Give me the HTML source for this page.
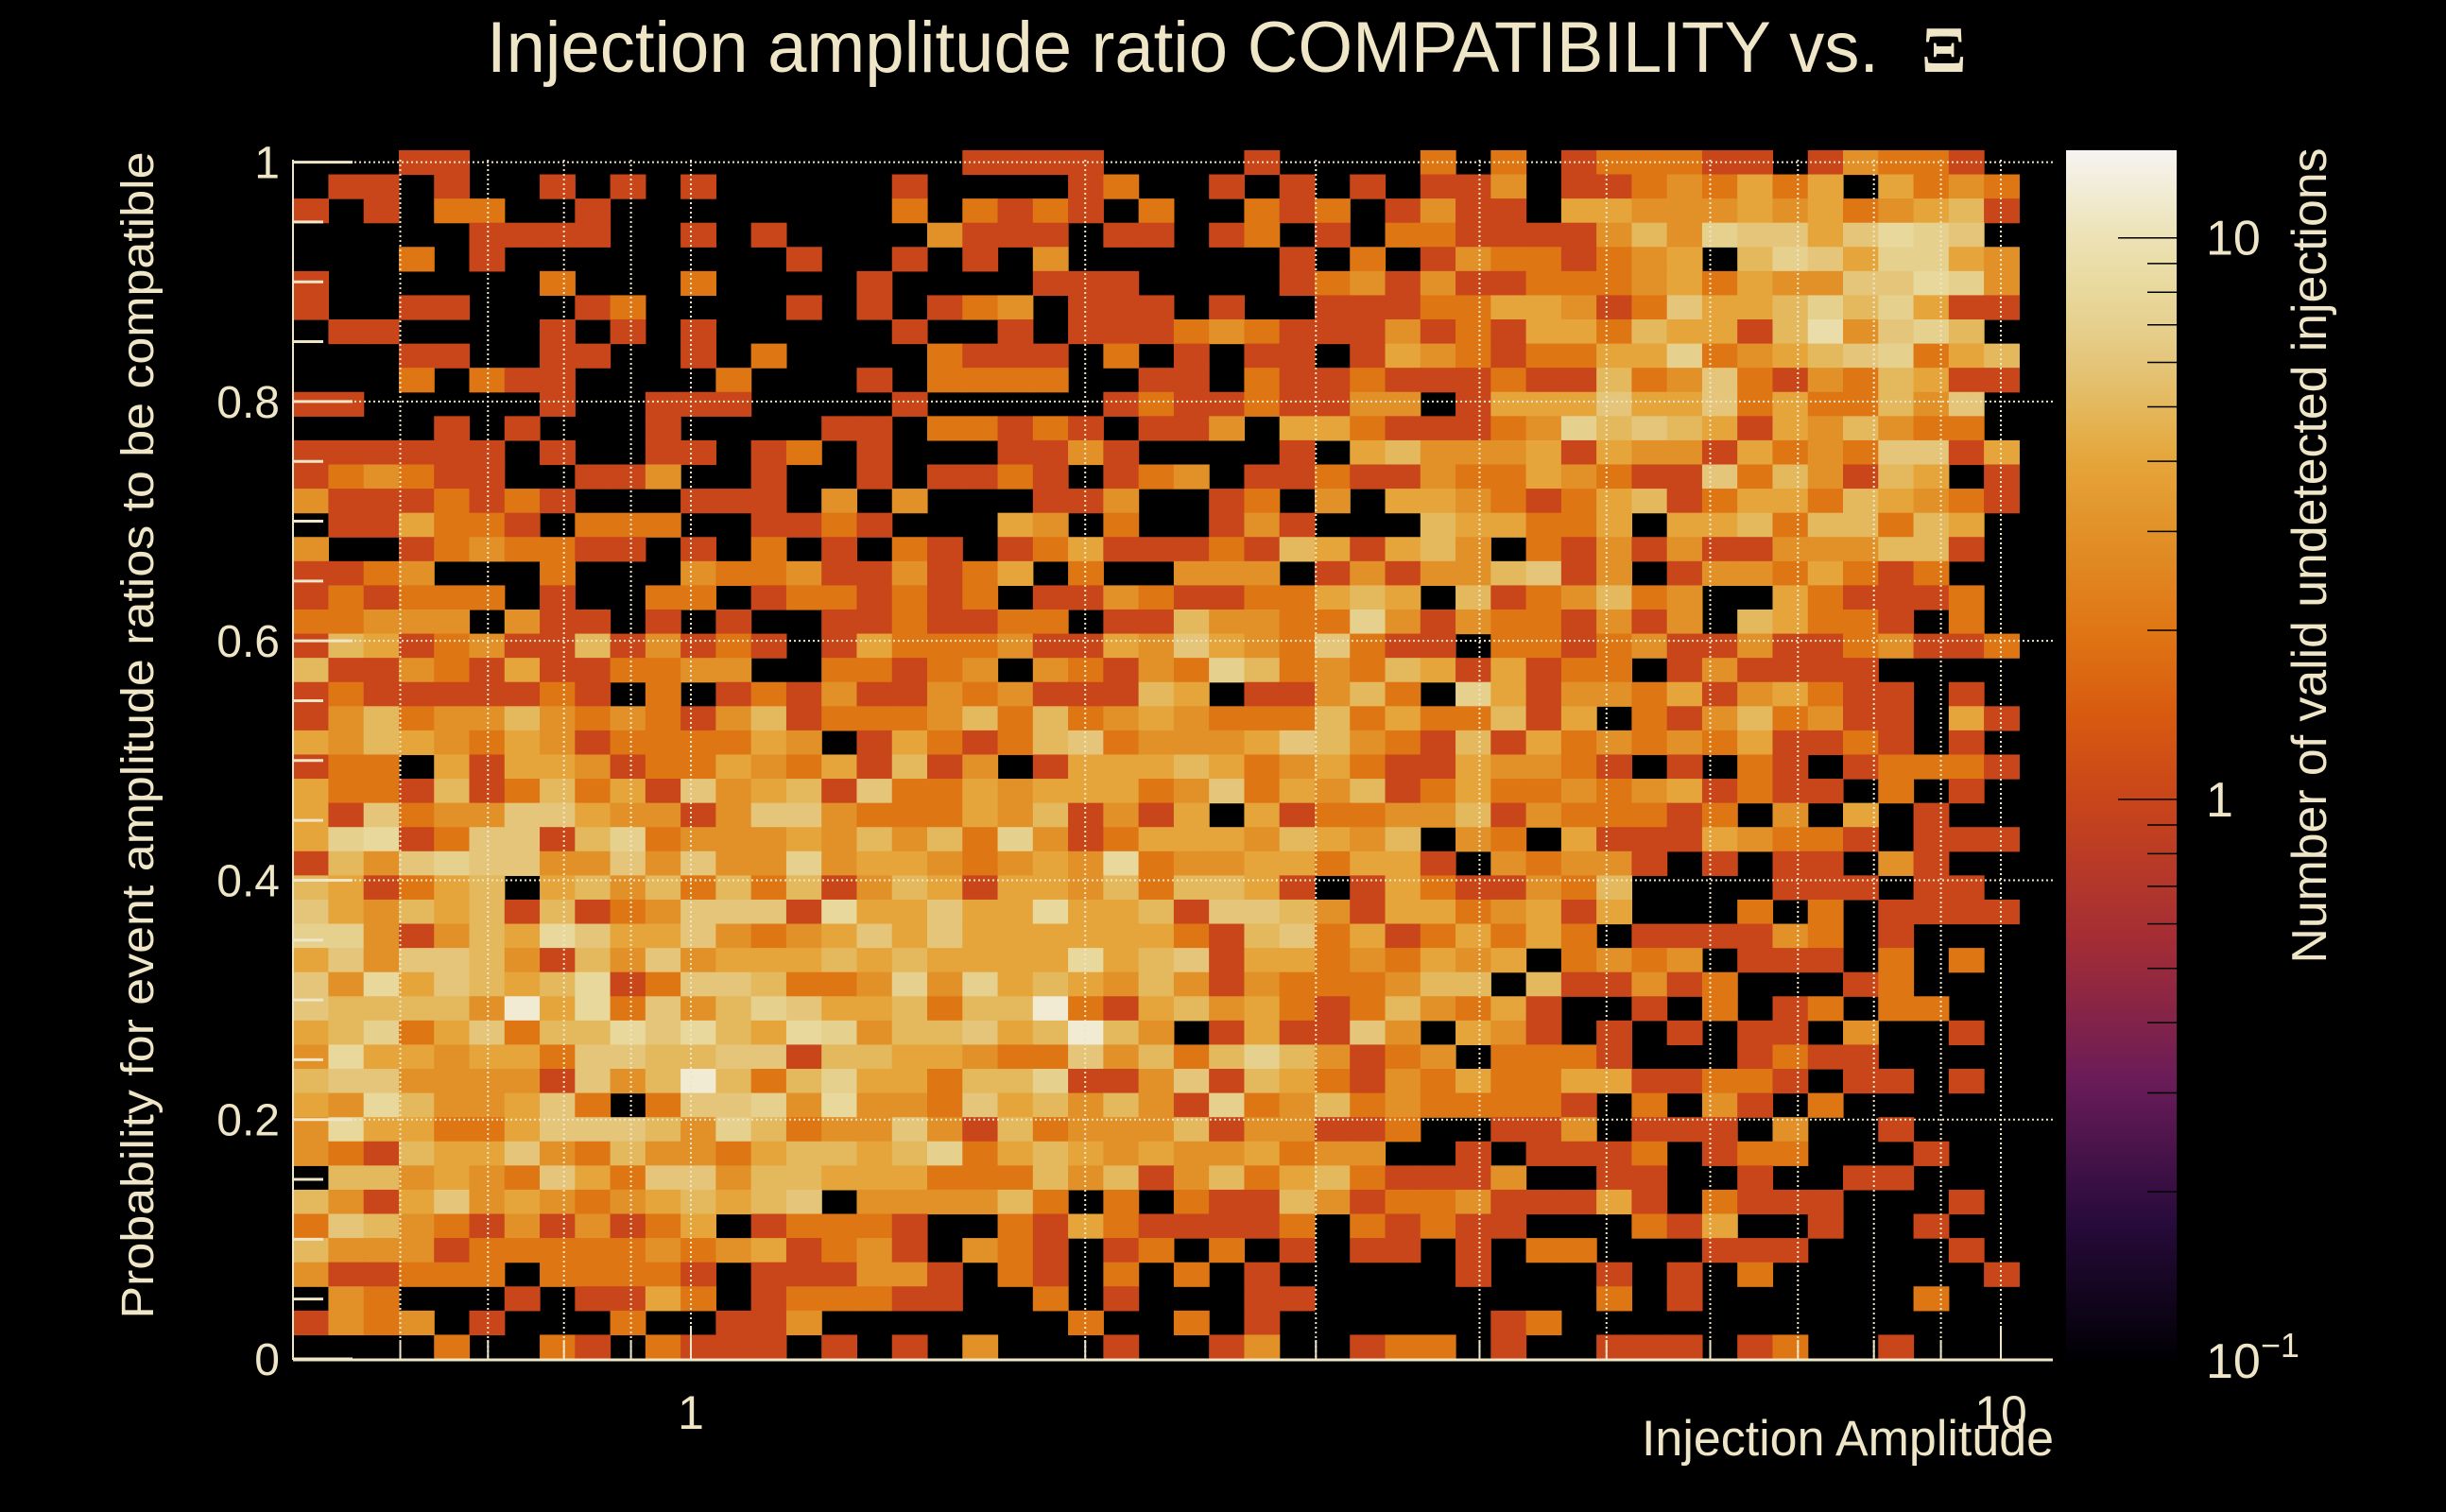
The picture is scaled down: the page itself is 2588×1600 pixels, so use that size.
<!DOCTYPE html>
<html><head><meta charset="utf-8">
<style>
html,body{margin:0;padding:0;background:#000;}
svg{display:block;}
text{font-family:"Liberation Sans",sans-serif;fill:#efe5c7;}
</style></head>
<body>
<svg id="chart" xmlns="http://www.w3.org/2000/svg" width="2588" height="1600" viewBox="0 0 2588 1600">
<defs>
<linearGradient id="cbgrad" x1="0" y1="1" x2="0" y2="0"></linearGradient>
</defs>
<rect x="0" y="0" width="2588" height="1600" fill="#000"/>
<g id="cells"></g>
<g id="grid"></g>
<g id="axes"></g>
<g id="colorbar"></g>
<text x="515" y="76" font-size="76" textLength="1473" lengthAdjust="spacingAndGlyphs">Injection amplitude ratio COMPATIBILITY vs.</text>
<text x="2033" y="76" font-size="70" font-weight="bold" style="font-family:'Liberation Serif',serif">Ξ</text>
<text x="2173" y="1540" font-size="53" text-anchor="end" textLength="436" lengthAdjust="spacingAndGlyphs">Injection Amplitude</text>
<text transform="translate(162,778) rotate(-90)" font-size="48" text-anchor="middle" textLength="1235" lengthAdjust="spacingAndGlyphs">Probability for event amplitude ratios to be compatible</text>
<text transform="translate(2461,588) rotate(-90)" font-size="52" text-anchor="middle" textLength="863" lengthAdjust="spacingAndGlyphs">Number of valid undetected injections</text>
</svg>
<script>
// ---- data (rows listed top (y~1.0) to bottom (y~0); one char per x bin, hex count) ----
const countRows = [
"0001100000000000000111100001000020201222110132210",
"0110100101010000010000120010101011301123242404232",
"1010220010000000020212102002120131104433343423451",
"0000011110010100003111011012010221111353766468760",
"0002010000000010010103000000102013221234057647743",
"1000000200020000100001110000123131122234243366873",
"1001100012000010101230111010011122443126445757411",
"0110000101010000010010111232111312144254415936750",
"0001100110010200002111020101101432122447234567245",
"0002021100002000102222001102112111211523621325411",
"1100000100111000010000012112113301444644624225360",
"0000101000100001102212101130442111237565414353220",
"1111110100110120100011310000104533341433142326614",
"1232110011300100101121012301121132243211625315401",
"3111212100011103030001130012030443212451244254321",
"0114221022200112100043020013100054422404452552540",
"3001232211010201021012411121541453021313113335510",
"1123000200032231131240200333013133561301332421200",
"1212220100220122121201132112245405123523004211120",
"2233303110101001121122011533227313221313054221020",
"1541231151312101422231143643262110221231131123112",
"5113214112233002212303213275232541412201311110000",
"1211111210201213113231115401135207413324134211010",
"1352335323213512223525234322252422514021352311041",
"4354324312222430142125623334653215142323241121010",
"1220414431224324151301444542342114332101021012221",
"4221512524163451622434442362435124223234121102010",
"4162336643313663222435131404122335132221203040100",
"4781266157233343535273124443543503204111432210111",
"1536766336363373443234382334424410323310101103100",
"5412450453525251354144352554101421132500001110110",
"6435451512366618446448445166531442341400020201111",
"7731354864463234646444444215624124242011113201000",
"4636653153634445454444845614423243402323011102020",
"6384654581266522373745435313222355051131200012000",
"655553c48263576445255c214534212532410010201202200",
"4572462558685487355645c53014116304310101011030010",
"3844344266556615544322635257531230222100012110000",
"56633331635c5257442557113615421324224411221011010",
"4385334620266738332645353172352322221020310200000",
"3844224666537523363152333513311200113011103001000",
"3215446325332455457245434334233001011120122000100",
"0553432642663554442225351352452111300110010011000",
"5314634323454560333352020211531223111410211100010",
"2653213131240122210021421111202121100021400100100",
"5333122222323412310321012020101101022000111000010",
"3112220222210111331021020201000001000101020000001",
"0320001011420122211002010001100000000201000000200",
"1323010002001130000000200201000000120000000000000",
"0000200210211101010300010013001220100111012001000"
];
const yTickValues = [0, 0.2, 0.4, 0.6, 0.8, 1];
const yTickLabels = ["0", "0.2", "0.4", "0.6", "0.8", "1"];
const xTickValues = [1, 10];
const xTickLabels = ["1", "10"];
const xGridValues = [0.6, 0.7, 0.8, 0.9, 1, 2, 3, 4, 5, 6, 7, 8, 9, 10];
const cbTickValues = [0.1, 1, 10];

// ---- geometry / scales ----
const PX0 = 310, PX1 = 2172, PY0 = 159, PY1 = 1438;
const X_ONE = 731, DECADE = 1386;
const xScale = v => X_ONE + Math.log10(v) * DECADE;
const yScale = v => PY1 - v * 1266.4;
const nCols = 49, nRows = 50;
const xMinVal = 0.497, logBinW = 0.02689;
const yBinW = 0.0202;
const CB_X0 = 2186, CB_X1 = 2303, CB_TOP = 159, CB_BOT = 1440;
const cbLogMin = -1, cbLogMax = 1.156;
const cbScale = v => CB_BOT - (Math.log10(v) - cbLogMin) / (cbLogMax - cbLogMin) * (CB_BOT - CB_TOP);

const stops = [[-1,'#000004'],[-0.75,'#280b3c'],[-0.5,'#6a1c58'],[-0.25,'#a42d35'],[0,'#c9451a'],[0.15,'#d85a10'],[0.301,'#df7614'],[0.477,'#e19128'],[0.602,'#e5a53a'],[0.699,'#e4b85c'],[0.778,'#e4c57a'],[0.845,'#e6d08e'],[0.903,'#e8d89c'],[1,'#ece2b4'],[1.156,'#f6f4f2']];
function hex2rgb(h){return [1,3,5].map(i=>parseInt(h.substr(i,2),16));}
function colorFor(v){
  const t = Math.log10(v);
  for (let i=0;i<stops.length-1;i++){
    const [a,ca]=stops[i],[b,cb]=stops[i+1];
    if (t<=b || i===stops.length-2){
      const f=Math.max(0,Math.min(1,(t-a)/(b-a)));
      const A=hex2rgb(ca),B=hex2rgb(cb);
      return 'rgb('+A.map((x,k)=>Math.round(x+(B[k]-x)*f)).join(',')+')';
    }
  }
}
const NS='http://www.w3.org/2000/svg';
function mk(tag, attrs, parent){const e=document.createElementNS(NS,tag);for(const k in attrs)e.setAttribute(k,attrs[k]);parent.appendChild(e);return e;}

// ---- cells ----
const cells=document.getElementById('cells');
countRows.forEach((row, ri) => {
  const yLo = (nRows - 1 - ri) * yBinW, yHi = yLo + yBinW;
  for (let ci = 0; ci < nCols; ci++) {
    const v = parseInt(row[ci] || '0', 16);
    if (!v) continue;
    const xLo = xMinVal * Math.pow(10, ci * logBinW), xHi = xMinVal * Math.pow(10, (ci + 1) * logBinW);
    const x0 = xScale(xLo), x1 = xScale(xHi), y0 = yScale(yHi), y1 = yScale(yLo);
    const r = mk('rect', {x:x0.toFixed(2), y:y0.toFixed(2), width:(x1-x0+0.6).toFixed(2), height:(y1-y0+0.6).toFixed(2), fill:colorFor(v)}, cells);
    
    
  }
});

// ---- grid ----
const grid=document.getElementById('grid');
xGridValues.forEach(v=>{
  const x=xScale(v);
  const l=mk('line',{x1:x,x2:x,y1:PY0+10,y2:PY1,stroke:'#efe5c7','stroke-width':2,'stroke-dasharray':'2 3'},grid);
  
  
});
yTickValues.forEach(v=>{
  if(v===0)return;
  const y=yScale(v);
  const l=mk('line',{x1:PX0,x2:PX1,y1:y,y2:y,stroke:'#efe5c7','stroke-width':2,'stroke-dasharray':'2 3'},grid);
  
  
});

// ---- axes ----
const axes=document.getElementById('axes');
const ax=mk('line',{x1:PX0,x2:PX1,y1:PY1+1,y2:PY1+1,stroke:'#efe5c7','stroke-width':3},axes);


const ay=mk('line',{x1:PX0,x2:PX0,y1:PY0+10,y2:PY1+1,stroke:'#efe5c7','stroke-width':2},axes);


for(let k=0;k<=20;k++){
  const v=k*0.05, y=yScale(v), major=(k%4===0);
  const t=mk('line',{x1:PX0,x2:PX0+(major?63:32),y1:y,y2:y,stroke:'#efe5c7','stroke-width':3},axes);
  
  
}
yTickValues.forEach((v,i)=>{
  const t=mk('text',{x:296,y:yScale(v)+17,'font-size':48,'text-anchor':'end'},axes);
  t.textContent=yTickLabels[i];
  
  
});
xGridValues.forEach(v=>{
  const major=xTickValues.indexOf(v)>=0;
  const t=mk('line',{x1:xScale(v),x2:xScale(v),y1:PY1,y2:PY1-(major?35:20),stroke:'#efe5c7','stroke-width':2},axes);
  
  
});
xTickValues.forEach((v,i)=>{
  const t=mk('text',{x:xScale(v),y:1512,'font-size':50,'text-anchor':'middle'},axes);
  t.textContent=xTickLabels[i];
  
  
});

// ---- color bar ----
const grad=document.getElementById('cbgrad');
stops.forEach(([t,c])=>{
  mk('stop',{offset:((t-cbLogMin)/(cbLogMax-cbLogMin)).toFixed(4),'stop-color':c},grad);
});
const cb=document.getElementById('colorbar');
const cbr=mk('rect',{x:CB_X0,y:CB_TOP,width:CB_X1-CB_X0,height:CB_BOT-CB_TOP,fill:'url(#cbgrad)'},cb);


[0.1,1].forEach(dec=>{
  for(let m=1;m<=9;m++){
    const v=dec*m; if(v>=14.3)continue;
    const y=cbScale(v); if(y<CB_TOP+2||y>CB_BOT-2)continue;
    const t=mk('line',{x1:CB_X1-(m===1?62:31),x2:CB_X1,y1:y,y2:y,stroke:'#000','stroke-width':1.5},cb);
    
    
  }
});
{ const y=cbScale(10);
  const t=mk('line',{x1:CB_X1-62,x2:CB_X1,y1:y,y2:y,stroke:'#000','stroke-width':1.5},cb);
  
   }
cbTickValues.forEach(v=>{
  const y=cbScale(v)+18;
  const t=mk('text',{x:2334,y:Math.min(y,1460),'font-size':52},cb);
  if(v===0.1){
    t.textContent='10';
    const s=mk('tspan',{dy:-22,'font-size':36},t);
    s.textContent='\u22121';
  } else {
    t.textContent=String(v);
  }
  
  
});
</script>
</body></html>
